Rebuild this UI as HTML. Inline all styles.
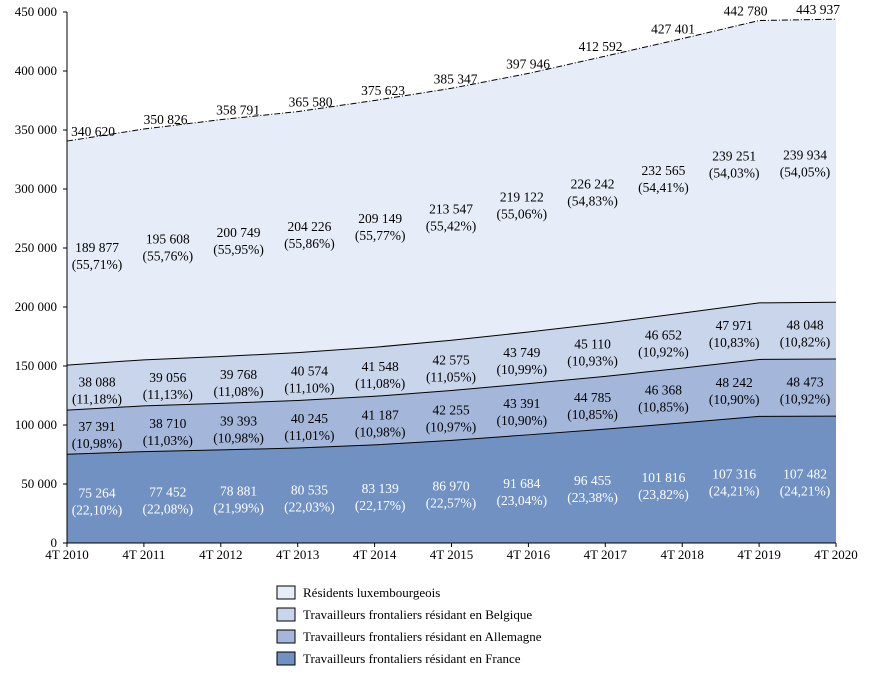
<!DOCTYPE html>
<html><head><meta charset="utf-8">
<style>
body{margin:0;background:#fff;}
svg text{font-family:"Liberation Serif",serif;}
</style></head>
<body>
<svg id="chart" width="869" height="675" xmlns="http://www.w3.org/2000/svg"></svg>
<script>
const categories=["4T 2010","4T 2011","4T 2012","4T 2013","4T 2014","4T 2015","4T 2016","4T 2017","4T 2018","4T 2019","4T 2020"];
const france=[75264,77452,78881,80535,83139,86970,91684,96455,101816,107316,107482];
const francePct=["22,10","22,08","21,99","22,03","22,17","22,57","23,04","23,38","23,82","24,21","24,21"];
const allemagne=[37391,38710,39393,40245,41187,42255,43391,44785,46368,48242,48473];
const allemagnePct=["10,98","11,03","10,98","11,01","10,98","10,97","10,90","10,85","10,85","10,90","10,92"];
const belgique=[38088,39056,39768,40574,41548,42575,43749,45110,46652,47971,48048];
const belgiquePct=["11,18","11,13","11,08","11,10","11,08","11,05","10,99","10,93","10,92","10,83","10,82"];
const residents=[189877,195608,200749,204226,209149,213547,219122,226242,232565,239251,239934];
const residentsPct=["55,71","55,76","55,95","55,86","55,77","55,42","55,06","54,83","54,41","54,03","54,05"];
const totals=[340620,350826,358791,365580,375623,385347,397946,412592,427401,442780,443937];
const yTicks=[0,50000,100000,150000,200000,250000,300000,350000,400000,450000];

const svg=document.getElementById('chart');
const NS="http://www.w3.org/2000/svg";
const x0=67,x1=836,yB=543,yT=12,yMax=450000;
const n=categories.length;
const X=i=>x0+(x1-x0)*i/(n-1);
const LX=i=>97+(805-97)*i/(n-1);
const TX=i=>93+(818-93)*i/(n-1);
const Y=v=>yB-(yB-yT)*v/yMax;
const fmt=v=>String(v).replace(/\B(?=(\d{3})+(?!\d))/g,' ');
function el(tag,attrs,parent){const e=document.createElementNS(NS,tag);for(const k in attrs)e.setAttribute(k,attrs[k]);(parent||svg).appendChild(e);return e;}

const series=[
 {name:"france",vals:france,pct:francePct,color:"#7191c2",text:"#fff"},
 {name:"allemagne",vals:allemagne,pct:allemagnePct,color:"#a4b7da",text:"#000"},
 {name:"belgique",vals:belgique,pct:belgiquePct,color:"#c9d5eb",text:"#000"},
 {name:"residents",vals:residents,pct:residentsPct,color:"#e7edf8",text:"#000"}
];
let base=categories.map(()=>0);
const tops=[];
series.forEach(s=>{
  const top=base.map((b,i)=>b+s.vals[i]);
  let d="M"+top.map((v,i)=>X(i)+","+Y(v)).join(" L");
  for(let i=n-1;i>=0;i--)d+=" L"+X(i)+","+Y(base[i]);
  const p=el('path',{d:d+"Z",fill:s.color});
  
  
  tops.push({s,base:base.slice(),top});
  base=top;
});
tops.forEach((t,k)=>{
  const ln=el('polyline',{points:t.top.map((v,i)=>X(i)+","+Y(v)).join(" "),fill:"none",stroke:"#000","stroke-width":1,"stroke-dasharray":k===3?"6,2,1,2":"none"});
  
  
});
tops.forEach(t=>{
  categories.forEach((c,i)=>{
    const cx=LX(i);
    const cy=(Y(t.base[i])+Y(t.top[i]))/2;
    const tx=el('text',{x:cx,y:cy-1,"text-anchor":"middle","font-size":13.5,fill:t.s.text});
    tx.textContent=fmt(t.s.vals[i]);
    
    
    const tp=el('text',{x:cx,y:cy+16,"text-anchor":"middle","font-size":13.5,fill:t.s.text});
    tp.textContent="("+t.s.pct[i]+"%)";
    
    
  });
});
totals.forEach((v,i)=>{
  const tx=el('text',{x:TX(i),y:Y(v)-5,"text-anchor":"middle","font-size":13.5,fill:"#000"});
  tx.textContent=fmt(v);
  
  
});
const ya=el('line',{x1:x0,y1:yT,x2:x0,y2:yB,stroke:"#000"});


const xa=el('line',{x1:x0,y1:yB,x2:x1,y2:yB,stroke:"#000"});


yTicks.forEach(v=>{
  el('line',{x1:x0-4,y1:Y(v),x2:x0,y2:Y(v),stroke:"#000"});
  const t=el('text',{x:x0-10,y:Y(v)+4,"text-anchor":"end","font-size":13});
  t.textContent=fmt(v);
  
  
});
categories.forEach((c,i)=>{
  el('line',{x1:X(i),y1:yB,x2:X(i),y2:yB+4,stroke:"#000"});
  const t=el('text',{x:X(i),y:yB+16,"text-anchor":"middle","font-size":13});
  t.textContent=c;
  
  
});
const legendNames=["Résidents luxembourgeois","Travailleurs frontaliers résidant en Belgique","Travailleurs frontaliers résidant en Allemagne","Travailleurs frontaliers résidant en France"];
const legendColors=["#e7edf8","#c9d5eb","#a4b7da","#7191c2"];
legendNames.forEach((nm,k)=>{
  const g=el('g',{});
  
  
  el('rect',{x:277,y:586+k*22,width:18,height:13,fill:legendColors[k],stroke:"#000"},g);
  const t=el('text',{x:303,y:597+k*22,"font-size":13},g);
  t.textContent=nm;
});
</script>
</body></html>
